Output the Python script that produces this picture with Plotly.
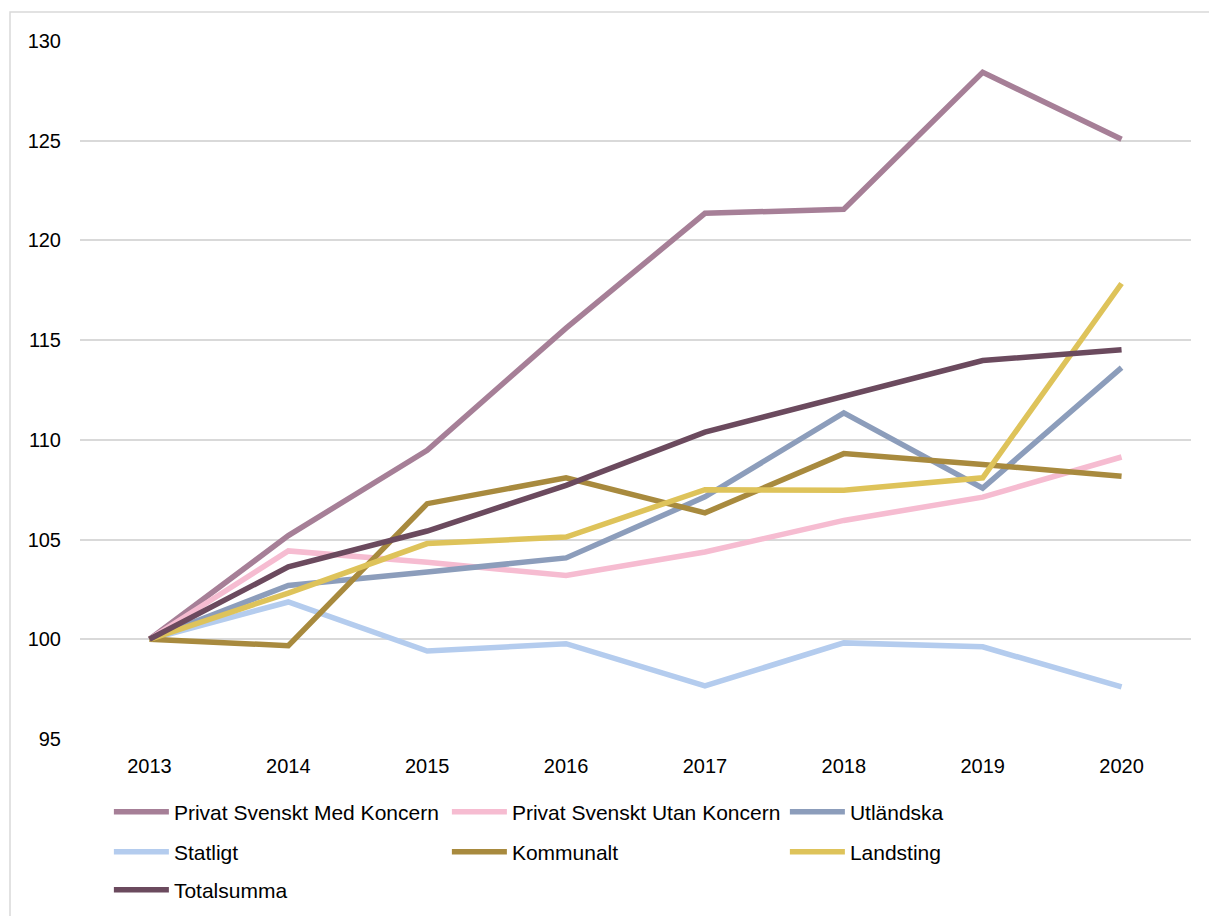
import plotly.graph_objects as go

years = ["2013", "2014", "2015", "2016", "2017", "2018", "2019", "2020"]

privat_med = [100, 105.2, 109.48, 115.6, 121.36, 121.56, 128.43, 125.07]
privat_utan = [100, 104.43, 103.86, 103.2, 104.38, 105.96, 107.13, 109.14]
utlandska = [100, 102.7, 103.37, 104.08, 107.14, 111.35, 107.58, 113.62]
statligt = [100, 101.87, 99.41, 99.78, 97.66, 99.82, 99.62, 97.61]
kommunalt = [100, 99.68, 106.8, 108.1, 106.34, 109.31, 108.76, 108.18]
landsting = [100, 102.32, 104.8, 105.13, 107.5, 107.47, 108.1, 117.84]
totalsumma = [100, 103.63, 105.43, 107.72, 110.39, 112.15, 113.98, 114.52]

series = [
    ("Privat Svenskt Med Koncern", privat_med, "#A67F97", "legend"),
    ("Privat Svenskt Utan Koncern", privat_utan, "#F6BCD1", "legend"),
    ("Utländska", utlandska, "#8C9DBB", "legend"),
    ("Statligt", statligt, "#B4CCEE", "legend2"),
    ("Kommunalt", kommunalt, "#A88A3E", "legend2"),
    ("Landsting", landsting, "#DEC35A", "legend2"),
    ("Totalsumma", totalsumma, "#6B4A5E", "legend3"),
]

FONT = "Liberation Sans, Arial, sans-serif"

fig = go.Figure()
for name, vals, color, lg in series:
    fig.add_trace(go.Scatter(
        x=years, y=vals, name=name, mode="lines",
        line=dict(color=color, width=5.5),
        legend=lg,
    ))


def legend_row(ypos):
    return dict(
        orientation="h",
        x=0.026, xanchor="left",
        y=ypos, yanchor="middle",
        entrywidth=268, entrywidthmode="pixels",
        itemwidth=55,
        font=dict(family=FONT, size=21, color="#000000"),
        traceorder="normal",
        bgcolor="rgba(0,0,0,0)",
    )


fig.update_layout(
    width=1209, height=916,
    margin=dict(l=80, r=18, t=41, b=177, autoexpand=False),
    paper_bgcolor="white", plot_bgcolor="white",
    font=dict(family=FONT, size=20, color="#000000"),
    showlegend=True,
    legend=legend_row(-0.1046),
    legend2=legend_row(-0.1619),
    legend3=legend_row(-0.2163),
    xaxis=dict(
        type="category",
        range=[-0.5, 7.5],
        showgrid=False, showline=False, zeroline=False,
        ticks="outside", ticklen=9, tickcolor="rgba(0,0,0,0)",
        tickfont=dict(size=20),
    ),
    yaxis=dict(
        range=[95, 130], dtick=5, tick0=95,
        showgrid=True, gridcolor="#D9D9D9", gridwidth=1.5,
        showline=False, zeroline=False,
        ticks="outside", ticklen=14, tickcolor="rgba(0,0,0,0)",
        tickfont=dict(size=20),
    ),
    shapes=[dict(
        type="rect", xref="paper", yref="paper",
        x0=-0.063, x1=1.2, y0=-0.5, y1=1.0415,
        line=dict(color="#D9D9D9", width=1.5),
        fillcolor="rgba(0,0,0,0)", layer="below",
    )],
)

fig.write_html("out.html", config={"displayModeBar": False},
               post_script="document.body.style.margin='0';")
